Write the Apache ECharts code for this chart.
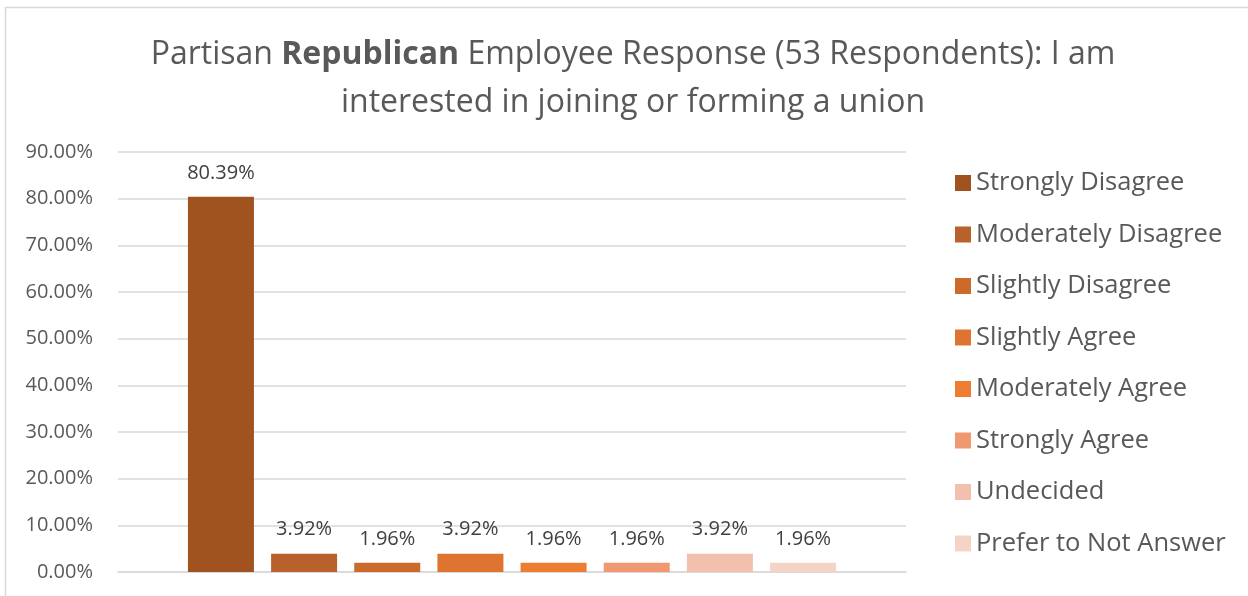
<!DOCTYPE html>
<html>
<head>
<meta charset="utf-8">
<script src="https://cdn.jsdelivr.net/npm/echarts@6/dist/echarts.min.js"></script>
<style>
  html, body { margin: 0; padding: 0; background: #fff; }
  #chart { width: 1248px; height: 596px; }
</style>
</head>
<body>
<div id="chart"></div>
<script>
// response options (one series each, single category)
const responses = [
  "Strongly Disagree",
  "Moderately Disagree",
  "Slightly Disagree",
  "Slightly Agree",
  "Moderately Agree",
  "Strongly Agree",
  "Undecided",
  "Prefer to Not Answer",
];
const shares = [0.8039, 0.0392, 0.0196, 0.0392, 0.0196, 0.0196, 0.0392, 0.0196];
const colors = ["#A0521F", "#B9612A", "#CC6A2B", "#DE742F", "#ED7D31", "#F0986F", "#F4C0AE", "#F6D3C7"];
const yTicks = [0, 0.1, 0.2, 0.3, 0.4, 0.5, 0.6, 0.7, 0.8, 0.9];

const FONT = "'Open Sans', 'Noto Sans', sans-serif";
const GREY = "#595959";

const chart = echarts.init(document.getElementById("chart"));

const series = responses.map((name, i) => ({
  name: name,
  type: "bar",
  data: [shares[i]],
  barWidth: 66,
  barGap: "26%",
  itemStyle: { color: colors[i] },
  label: {
    show: true,
    position: "top",
    distance: 14,
    color: "#404040",
    fontFamily: FONT,
    fontSize: 20,
    formatter: (p) => (p.value * 100).toFixed(2) + "%",
  },
}));

chart.setOption({
  animation: false,
  textStyle: { fontFamily: FONT },
  graphic: [
    {
      type: "rect",
      shape: { x: 5.5, y: 7.5, width: 1260, height: 620 },
      style: { fill: "none", stroke: "#D9D9D9", lineWidth: 1.5 },
      silent: true,
    },
  ],
  title: {
    text: "Partisan {b|Republican} Employee Response (53 Respondents): I am\ninterested in joining or forming a union",
    left: 628,
    textAlign: "center",
    top: 26,
    textStyle: {
      color: GREY,
      fontFamily: FONT,
      fontSize: 32,
      fontWeight: "normal",
      lineHeight: 48,
      rich: {
        b: { fontWeight: "bold", fontSize: 32, color: GREY, fontFamily: FONT, lineHeight: 48 },
      },
    },
  },
  legend: {
    orient: "vertical",
    left: 950,
    top: 165,
    itemWidth: 16,
    itemHeight: 16,
    itemGap: 25.5,
    icon: "rect",
    textStyle: { color: GREY, fontSize: 25.5, fontFamily: FONT, padding: [0, 0, 0, 0] },
    data: responses,
  },
  grid: { left: 118, right: 342, top: 152, bottom: 24 },
  xAxis: {
    type: "category",
    data: [""],
    axisLine: { show: true, lineStyle: { color: "#D9D9D9", width: 1.5 } },
    axisTick: { show: false },
    axisLabel: { show: false },
  },
  yAxis: {
    type: "value",
    min: 0,
    max: yTicks[yTicks.length - 1],
    interval: 0.1,
    axisLine: { show: false },
    axisTick: { show: false },
    splitLine: { lineStyle: { color: "#D9D9D9", width: 1.5 } },
    axisLabel: {
      color: GREY,
      fontSize: 20,
      fontFamily: FONT,
      margin: 25,
      formatter: (v) => (v * 100).toFixed(2) + "%",
    },
  },
  series: series,
});
</script>
</body>
</html>
